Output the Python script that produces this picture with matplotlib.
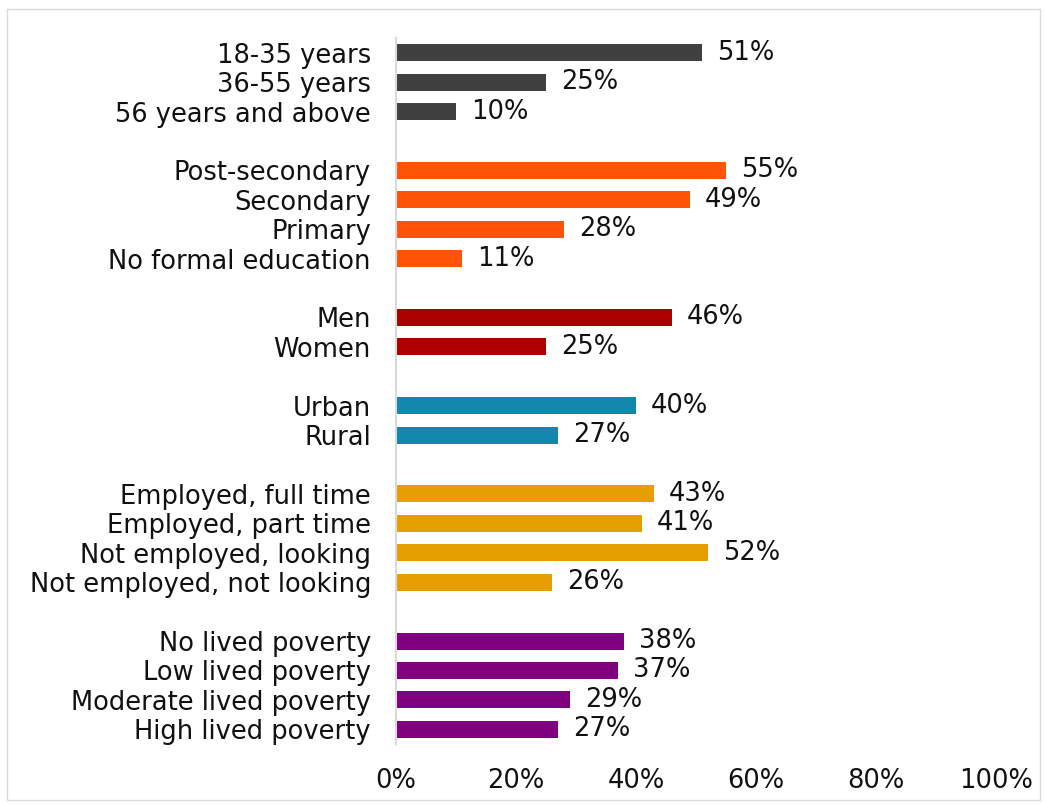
import matplotlib
matplotlib.use("Agg")
import matplotlib.pyplot as plt
from matplotlib.patches import Rectangle

plt.rcParams['font.family'] = ['DejaVu Sans']

groups = [
    ["18-35 years", "36-55 years", "56 years and above"],
    ["Post-secondary", "Secondary", "Primary", "No formal education"],
    ["Men", "Women"],
    ["Urban", "Rural"],
    ["Employed, full time", "Employed, part time", "Not employed, looking", "Not employed, not looking"],
    ["No lived poverty", "Low lived poverty", "Moderate lived poverty", "High lived poverty"],
]
values = [
    [51, 25, 10],
    [55, 49, 28, 11],
    [46, 25],
    [40, 27],
    [43, 41, 52, 26],
    [38, 37, 29, 27],
]
colors = ["#404040", "#FF5308", "#AA0000", "#1287AD", "#E69F00", "#800080"]
xticks = [0, 20, 40, 60, 80, 100]

FS = 18.5
fig = plt.figure(figsize=(10.46, 8.05), dpi=100)
ax = fig.add_axes([396/1046, 1-744/805, 600/1046, 706/805])

pos = 0
ypos, labels = [], []
for g, vals, c in zip(groups, values, colors):
    for lab, v in zip(g, vals):
        ax.barh(pos, v, height=0.58, color=c)
        ax.text(v + 2.5, pos, f"{v}%", va="center", ha="left", fontsize=FS, color="#111111")
        ypos.append(pos)
        labels.append(lab)
        pos += 1
    pos += 1

ax.set_ylim(ypos[-1] + 0.5, -0.5)
ax.set_xlim(0, 100)
ax.set_yticks(ypos)
ax.set_yticklabels(labels, fontsize=FS, color="#111111")
ax.set_xticks(xticks)
ax.set_xticklabels([f"{t}%" for t in xticks], fontsize=FS, color="#111111")
ax.tick_params(axis="both", length=0)
ax.tick_params(axis="y", pad=18)
ax.tick_params(axis="x", pad=17)
for s in ["top", "right", "bottom"]:
    ax.spines[s].set_visible(False)
ax.spines["left"].set_color("#D9D9D9")
ax.spines["left"].set_linewidth(1.5)

fig.patches.append(Rectangle((7/1046, 1-800/805), 1033/1046, 791/805, transform=fig.transFigure,
                             fill=False, edgecolor="#D9D9D9", linewidth=1))
fig.savefig("out.png", dpi=100)
